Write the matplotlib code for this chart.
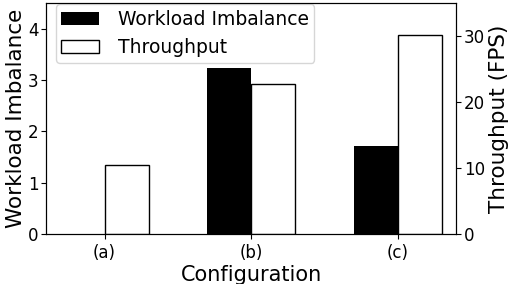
import numpy as np
import matplotlib
matplotlib.use("Agg")
from matplotlib import pyplot as plt

# Data
configs = ["(a)", "(b)", "(c)"]
imbalance = [0.0, 3.24, 1.71]
throughput = [10.5, 22.7, 30.2]

x = np.arange(len(configs))
w = 0.3

fig = plt.figure(figsize=(5.1, 2.84), dpi=100)
ax = fig.add_axes([0.09, 0.175, 0.805, 0.815])
ax2 = ax.twinx()

b1 = ax.bar(x - w/2, imbalance, w, color='black', linewidth=0, label='Workload Imbalance')
b2 = ax2.bar(x + w/2, throughput, w, color='white', edgecolor='black', label='Throughput')

ax.set_ylim(0, 4.5)
ax2.set_ylim(0, 35)
ax.set_xlim(-0.4, 2.4)
ax.set_xticks(x)
ax.set_xticklabels(configs, fontsize=12)
ax.tick_params(axis='y', labelsize=12, pad=2)
ax2.tick_params(axis='y', labelsize=12, pad=2)
ax.set_yticks([0, 1, 2, 3, 4])
ax2.set_yticks([0, 10, 20, 30])

ax.set_xlabel("Configuration", fontsize=15, labelpad=2)
ax.set_ylabel("Workload Imbalance", fontsize=15.5, labelpad=1)
ax2.set_ylabel("Throughput (FPS)", fontsize=15.5, labelpad=3)

ax.legend([b1, b2], ['Workload Imbalance', 'Throughput'], loc='upper left',
          fontsize=13.5, bbox_to_anchor=(0.015, 1.01), borderaxespad=0.2,
          borderpad=0.3, labelspacing=0.5, handletextpad=1.0)

plt.savefig("out.png", dpi=100)
